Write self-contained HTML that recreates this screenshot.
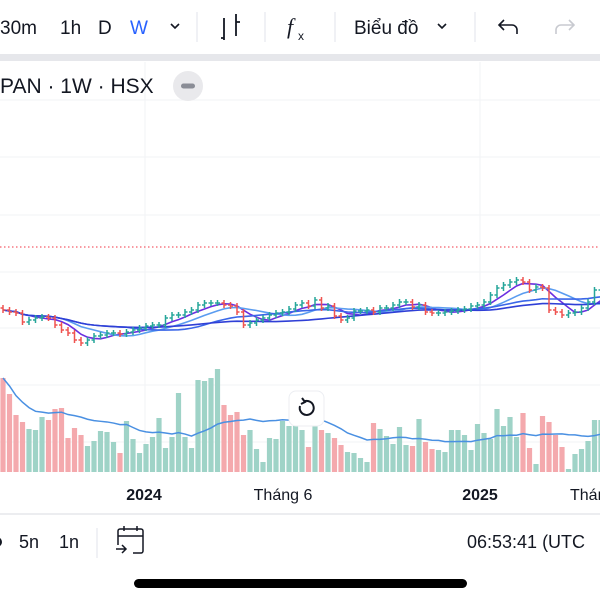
<!DOCTYPE html>
<html><head><meta charset="utf-8"><style>
html,body{margin:0;padding:0;background:#fff;width:600px;height:600px;overflow:hidden;font-family:"Liberation Sans",sans-serif;}
svg{position:absolute;left:0;top:0}
</style></head><body>
<svg id="c" width="600" height="600" xmlns="http://www.w3.org/2000/svg">
<g font-size="19" fill="#131722">
<text x="0" y="34">30m</text>
<text x="60" y="34">1h</text>
<text x="98" y="34">D</text>
<text x="130" y="34" fill="#2962ff">W</text>
<path d="M171 24 l4 4 l4 -4" stroke="#131722" stroke-width="1.6" fill="none"/>
<line x1="197" y1="12" x2="197" y2="42" stroke="#e0e3eb"/>
<g stroke="#131722" stroke-width="1.8" fill="none"><path d="M224 18v22M221 38h3M236 14v22M236 22h4"/></g>
<line x1="265" y1="12" x2="265" y2="42" stroke="#e0e3eb"/>
<text x="287" y="34" font-size="22" font-style="italic" font-family="Liberation Serif,serif">f</text>
<text x="298" y="40" font-size="12">x</text>
<line x1="335" y1="12" x2="335" y2="42" stroke="#e0e3eb"/>
<text x="354" y="34">Biểu đồ</text>
<path d="M438 24 l4 4 l4 -4" stroke="#131722" stroke-width="1.6" fill="none"/>
<line x1="475" y1="12" x2="475" y2="42" stroke="#e0e3eb"/>
<path d="M517 34 v-4 a5 5 0 0 0 -5 -5 h-13 M504 20 l-5 5 l5 5" stroke="#131722" stroke-width="1.6" fill="none"/>
<path d="M556 34 v-4 a5 5 0 0 1 5 -5 h13 M569 20 l5 5 l-5 5" stroke="#c8cad0" stroke-width="1.6" fill="none"/>
</g>
<rect x="0" y="54" width="600" height="7" fill="#e6e7eb"/>
<g id="grid" stroke="#f2f3f5" stroke-width="1"></g>
<line x1="0" y1="247" x2="600" y2="247" stroke="#f23645" stroke-dasharray="1.5 2.5" stroke-width="1"/>
<text x="0" y="93" font-size="21" fill="#131722">PAN · 1W · HSX</text>
<circle cx="188" cy="86" r="15" fill="#e9e9ec"/>
<rect x="181" y="83.5" width="14" height="5" rx="2.5" fill="#8a8d96"/>
<g id="vol"></g>
<g id="ma"></g>
<g id="bars"></g>
<g>
<rect x="289" y="391" width="35" height="35" rx="7" fill="#fff" stroke="#eceef2"/>
<path d="M300 406 a7 7 0 1 0 4 -4.5" stroke="#131722" stroke-width="2" fill="none"/>
<path d="M302 398 l3 4 l-4 2" stroke="#131722" stroke-width="2" fill="none"/>
</g>
<g font-size="16" fill="#131722">
<text x="144" y="500" text-anchor="middle" font-weight="bold">2024</text>
<text x="283" y="500" text-anchor="middle">Tháng 6</text>
<text x="480" y="500" text-anchor="middle" font-weight="bold">2025</text>
<text x="570" y="500">Tháng 6</text>
</g>
<line x1="0" y1="514" x2="600" y2="514" stroke="#e6e7eb" stroke-width="1.5"/>
<g font-size="18" fill="#131722">
<circle cx="-3" cy="542" r="5" fill="#131722"/>
<text x="19" y="548">5n</text>
<text x="59" y="548">1n</text>
<line x1="97" y1="528" x2="97" y2="558" stroke="#e0e3eb"/>
<g stroke="#131722" stroke-width="1.5" fill="none"><path d="M118 545 v-14 a2 2 0 0 1 2 -2 h21 a2 2 0 0 1 2 2 v20 a2 2 0 0 1 -2 2 h-8 M118 536 h25 M124 526 v5 M137 526 v5 M116 549 h10 M122 545 l4 4 l-4 4"/></g>
<text x="467" y="548">06:53:41 (UTC</text>
</g>
<rect x="134" y="579" width="333" height="9" rx="4.5" fill="#000"/>
</svg>
<script>
const closes=[23.7,23.5,23.4,22.5,22.7,22.9,23.0,22.9,22.2,21.7,21.4,20.7,20.4,20.7,21.1,21.2,21.4,21.4,21.3,21.5,21.7,21.9,22.1,22.2,22.2,22.9,23.2,23.2,23.5,23.7,24.2,24.4,24.4,24.4,24.2,24.1,23.5,22.2,22.4,22.7,22.9,23.2,23.4,23.5,23.8,24.2,24.4,24.1,24.7,23.9,24.1,23.1,22.7,22.9,23.6,23.6,23.7,23.5,23.9,23.9,24.2,24.5,24.5,24.0,24.2,23.5,23.4,23.4,23.5,23.6,23.7,23.8,24.1,24.2,24.5,25.2,25.9,26.2,26.5,26.7,26.5,25.7,26.0,25.9,23.7,23.5,23.2,23.4,23.5,23.9,24.5,25.7,25.7];
const volumes=[94,78,57,50,43,42,55,52,63,64,34,44,37,26,31,41,40,30,19,51,33,19,28,35,54,24,35,79,35,24,92,91,94,103,67,57,60,37,42,23,10,34,33,51,46,46,42,25,46,42,39,34,27,20,19,14,10,49,43,36,28,45,27,26,53,30,23,22,20,42,42,37,22,48,39,33,63,46,55,35,59,24,8,56,50,37,25,3,18,23,31,52,52];
const maPeriods=[5,10,20,40];
const maColors=["#6b2fe0","#5a9cf0","#3a66e8","#2f3fd6"];
const gridY=[100,157,215,272,328,385,442];
const gridX=[145,480];
const NS="http://www.w3.org/2000/svg";
const xOf=i=>3+i*6.5;
const yP=p=>247-(p-30)*10;
const yV=v=>472-v;
function mk(t,a,parent){const e=document.createElementNS(NS,t);for(const k in a)e.setAttribute(k,a[k]);parent.appendChild(e);return e;}
const grid=document.getElementById('grid');
gridY.forEach(y=>{const l=mk('line',{x1:0,x2:600,y1:y,y2:y},grid);});
gridX.forEach(x=>{const l=mk('line',{x1:x,x2:x,y1:62,y2:472},grid);});
const up="#26a69a",dn="#ef5350";
const vol=document.getElementById('vol');
volumes.forEach((v,i)=>{const o=i?closes[i-1]:closes[0]+0.2;const isUp=closes[i]>=o;
const r=mk('rect',{x:xOf(i)-2.6,y:yV(v),width:5.2,height:v,fill:isUp?"#9fd3c7":"#f4a9ad"},vol);

});
const bars=document.getElementById('bars');
closes.forEach((c,i)=>{const o=i?closes[i-1]:c+0.2;const h=Math.max(o,c)+0.3,l=Math.min(o,c)-0.3;const col=c>=o?up:dn;const x=xOf(i);
const g=mk('path',{d:`M${x} ${yP(h)}V${yP(l)}M${x-2.5} ${yP(o)}H${x}M${x} ${yP(c)}H${x+2.5}`,stroke:col,'stroke-width':1.5,fill:'none'},bars);

});
function sma(arr,n){return arr.map((_,i)=>{const s=Math.max(0,i-n+1);let t=0;for(let k=s;k<=i;k++)t+=arr[k];return t/(i-s+1);});}
const ma=document.getElementById('ma');
maPeriods.forEach((n,j)=>{const m=sma(closes,n);const p=mk('polyline',{points:m.map((v,i)=>xOf(i)+','+yP(v)).join(' '),fill:'none',stroke:maColors[j],'stroke-width':1.6},ma);

});
const vm=sma(volumes,20);
const vl=mk('polyline',{points:vm.map((v,i)=>xOf(i)+','+yV(v)).join(' '),fill:'none',stroke:'#4a90e2','stroke-width':1.5},vol);


</script>
</body></html>
